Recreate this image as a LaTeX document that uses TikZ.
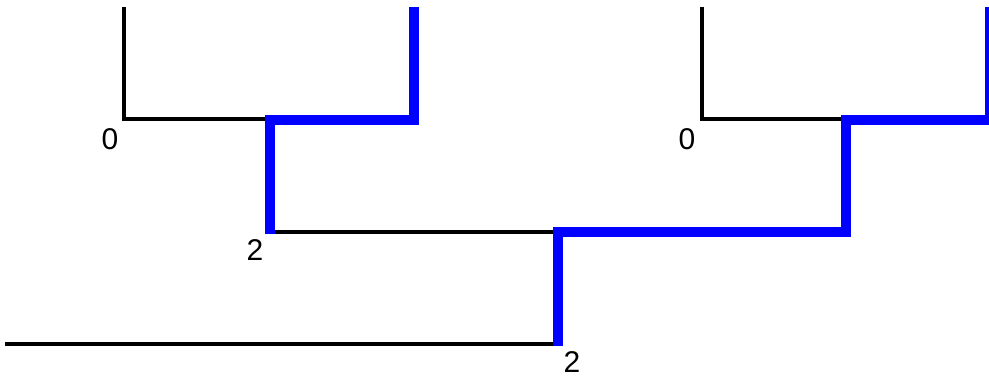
\documentclass[tikz,border=0pt]{standalone}
\usepackage{fontspec}
\setmainfont{Liberation Sans}
\usetikzlibrary{positioning}

\tikzset{
  edge/.style={line width=4pt,black},
  walk/.style={line width=9.5pt,blue,line join=miter},
  lbl/.style={inner sep=0pt,font=\fontsize{30}{30}\selectfont}
}

\begin{document}
\begin{tikzpicture}[x=1pt,y=-1pt]
    \useasboundingbox (0,0) rectangle (989,379);

    % corners of the two upper trees
    \coordinate (ltop) at (124,7);
    \coordinate (lroot) at (124,119);
    \coordinate (lmid) at (270,119);
    \coordinate (lend) at (270,232);
    \coordinate (ltopr) at (414,7);
    \coordinate (lcor) at (414,120);
    \coordinate (lturn) at (270,120);
    \coordinate (llow) at (270,234);

    \coordinate (rtop) at (702,7);
    \coordinate (rroot) at (702,119);
    \coordinate (rmid) at (846,119);
    \coordinate (rturn) at (846,120);
    \coordinate (rcor) at (990,120);
    \coordinate (rtopr) at (990,7);

    % bottom level
    \coordinate (bstart) at (5,344);
    \coordinate (bend) at (558,344);
    \coordinate (bup) at (558,346);
    \coordinate (bmid) at (558,232);
    \coordinate (bturn) at (846,232);

    \draw[edge] (ltop) -- (lroot) -- (lmid);
    \draw[edge] (lend) -- (bmid);
    \draw[edge] (bstart) -- (bend);
    \draw[edge] (rtop) -- (rroot) -- (rmid);

    \draw[walk] (ltopr) -- (lcor) -- (lturn) -- (llow);
    \draw[walk] (bup) -- (bmid) -- (bturn) -- (rturn) -- (rcor) -- (rtopr);

    \foreach \x/\y/\t/\n in {110/139/0/lzero,255/250/2/ltwo,572/362/2/btwo,687/139/0/rzero}
    \node[lbl] (\n) at (\x,\y) {\t};

\end{tikzpicture}
\end{document}
